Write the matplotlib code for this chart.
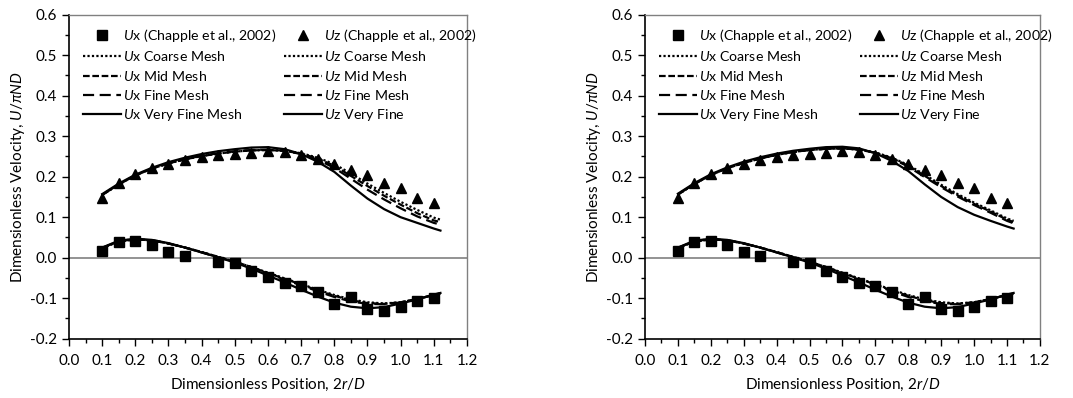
import matplotlib
matplotlib.use("Agg")
import matplotlib.pyplot as plt
from matplotlib.ticker import MultipleLocator, FormatStrFormatter

plt.rcParams['font.family'] = ['Lato', 'DejaVu Sans']
plt.rcParams['mathtext.fontset'] = 'custom'
plt.rcParams['mathtext.rm'] = 'Lato'
plt.rcParams['mathtext.it'] = 'Lato:italic'

# Chapple et al. (2002) measurements
exp_x_ux = [0.10, 0.15, 0.20, 0.25, 0.30, 0.35, 0.45, 0.50, 0.55, 0.60, 0.65,
            0.70, 0.75, 0.80, 0.85, 0.90, 0.95, 1.00, 1.05, 1.10]
exp_ux = [0.017, 0.038, 0.042, 0.032, 0.013, 0.003, -0.011, -0.014, -0.034, -0.048,
          -0.062, -0.071, -0.085, -0.114, -0.098, -0.126, -0.131, -0.121, -0.107, -0.099]
exp_x_uz = [0.10, 0.15, 0.20, 0.25, 0.30, 0.35, 0.40, 0.45, 0.50, 0.55, 0.60,
            0.65, 0.70, 0.75, 0.80, 0.85, 0.90, 0.95, 1.00, 1.05, 1.10]
exp_uz = [0.147, 0.184, 0.207, 0.222, 0.232, 0.241, 0.249, 0.253, 0.256, 0.259, 0.264,
          0.261, 0.253, 0.244, 0.231, 0.216, 0.204, 0.185, 0.171, 0.147, 0.135]

# CFD profiles
sim_x = [0.10, 0.15, 0.20, 0.25, 0.30, 0.35, 0.40, 0.45, 0.50, 0.55, 0.60,
         0.65, 0.70, 0.75, 0.80, 0.85, 0.90, 0.95, 1.00, 1.05, 1.10, 1.12]

# left case
ux_coarse_a = [0.024, 0.040, 0.045, 0.043, 0.035, 0.025, 0.014, 0.002, -0.010, -0.023, -0.037,
               -0.051, -0.065, -0.079, -0.092, -0.103, -0.110, -0.113, -0.110, -0.102, -0.092, -0.088]
ux_mid_a = [0.024, 0.040, 0.045, 0.043, 0.035, 0.025, 0.014, 0.002, -0.010, -0.023, -0.038,
            -0.052, -0.066, -0.081, -0.094, -0.105, -0.112, -0.114, -0.110, -0.102, -0.092, -0.088]
ux_fine_a = [0.024, 0.041, 0.046, 0.043, 0.035, 0.025, 0.013, 0.001, -0.011, -0.024, -0.039,
             -0.054, -0.068, -0.083, -0.097, -0.108, -0.114, -0.115, -0.111, -0.102, -0.092, -0.088]
ux_vfine_a = [0.025, 0.042, 0.047, 0.044, 0.036, 0.025, 0.013, 0.001, -0.012, -0.027, -0.044,
              -0.061, -0.079, -0.096, -0.111, -0.121, -0.125, -0.122, -0.113, -0.103, -0.091, -0.087]
uz_coarse_a = [0.155, 0.181, 0.203, 0.220, 0.233, 0.243, 0.251, 0.257, 0.262, 0.265, 0.266,
               0.264, 0.258, 0.247, 0.231, 0.208, 0.183, 0.160, 0.138, 0.118, 0.099, 0.094]
uz_mid_a = [0.155, 0.181, 0.203, 0.220, 0.233, 0.243, 0.251, 0.257, 0.262, 0.265, 0.266,
            0.264, 0.257, 0.245, 0.227, 0.202, 0.177, 0.153, 0.131, 0.110, 0.092, 0.088]
uz_fine_a = [0.155, 0.181, 0.203, 0.220, 0.233, 0.243, 0.252, 0.258, 0.263, 0.266, 0.267,
             0.264, 0.256, 0.242, 0.222, 0.195, 0.168, 0.144, 0.122, 0.102, 0.086, 0.082]
uz_vfine_a = [0.157, 0.183, 0.205, 0.222, 0.236, 0.247, 0.256, 0.263, 0.268, 0.272, 0.273,
              0.268, 0.256, 0.237, 0.212, 0.178, 0.146, 0.120, 0.100, 0.086, 0.072, 0.067]

# right case
ux_coarse_b = [0.024, 0.040, 0.045, 0.043, 0.035, 0.025, 0.014, 0.002, -0.010, -0.023, -0.037,
               -0.051, -0.065, -0.079, -0.092, -0.103, -0.110, -0.113, -0.110, -0.102, -0.092, -0.088]
ux_mid_b = [0.024, 0.040, 0.045, 0.043, 0.035, 0.025, 0.014, 0.002, -0.010, -0.023, -0.038,
            -0.052, -0.066, -0.081, -0.094, -0.105, -0.112, -0.114, -0.110, -0.102, -0.092, -0.088]
ux_fine_b = [0.024, 0.041, 0.046, 0.043, 0.035, 0.025, 0.013, 0.001, -0.011, -0.024, -0.039,
             -0.054, -0.068, -0.083, -0.097, -0.108, -0.114, -0.115, -0.111, -0.102, -0.092, -0.088]
ux_vfine_b = [0.025, 0.042, 0.047, 0.044, 0.036, 0.025, 0.013, 0.001, -0.012, -0.027, -0.044,
              -0.061, -0.079, -0.096, -0.111, -0.121, -0.125, -0.122, -0.113, -0.103, -0.091, -0.087]
uz_coarse_b = [0.156, 0.182, 0.204, 0.221, 0.234, 0.245, 0.254, 0.261, 0.266, 0.269, 0.270,
               0.267, 0.260, 0.247, 0.229, 0.205, 0.180, 0.157, 0.136, 0.117, 0.097, 0.091]
uz_mid_b = [0.156, 0.182, 0.204, 0.221, 0.234, 0.245, 0.254, 0.261, 0.266, 0.269, 0.270,
            0.267, 0.259, 0.246, 0.227, 0.202, 0.177, 0.154, 0.133, 0.114, 0.094, 0.088]
uz_fine_b = [0.156, 0.182, 0.204, 0.221, 0.234, 0.245, 0.254, 0.261, 0.266, 0.269, 0.270,
             0.267, 0.259, 0.245, 0.225, 0.199, 0.174, 0.151, 0.130, 0.111, 0.091, 0.085]
uz_vfine_b = [0.158, 0.184, 0.206, 0.223, 0.237, 0.248, 0.257, 0.264, 0.269, 0.273, 0.274,
              0.270, 0.258, 0.239, 0.214, 0.181, 0.150, 0.125, 0.106, 0.091, 0.077, 0.072]

styles = {
    "coarse": (0, (1, 1)),
    "mid": (0, (3, 1.2)),
    "fine": (0, (5, 2.5)),
    "vfine": "-",
}


def draw_panel(ax, ux, uz):
    ax.axhline(0, color="#808080", lw=1.2, zorder=1)
    h_ux, = ax.plot(exp_x_ux, exp_ux, ls="none", marker="s", ms=7, color="black",
                    label=r"$U$x (Chapple et al., 2002)")
    h_uz, = ax.plot(exp_x_uz, exp_uz, ls="none", marker="^", ms=7, color="black",
                    label=r"$U$z (Chapple et al., 2002)")
    names = ["Coarse Mesh", "Mid Mesh", "Fine Mesh", "Very Fine Mesh"]
    keys = ["coarse", "mid", "fine", "vfine"]
    hx, hz = [], []
    for k, name, yx, yz in zip(keys, names, ux, uz):
        a, = ax.plot(sim_x, yx, color="black", lw=1.6, ls=styles[k], label=r"$U$x " + name)
        zname = "Very Fine" if k == "vfine" else name
        b, = ax.plot(sim_x, yz, color="black", lw=1.6, ls=styles[k], label=r"$U$z " + zname)
        hx.append(a)
        hz.append(b)
    handles = [h_ux] + hx + [h_uz] + hz
    ax.legend(handles=handles, ncol=2, loc="upper left", bbox_to_anchor=(0.02, 0.98),
              frameon=False, fontsize=10.15, handlelength=2.7, handletextpad=0.14,
              columnspacing=0.57, labelspacing=0.38, borderaxespad=0.2, borderpad=0.2)

    ax.set_xlim(0, 1.2)
    ax.set_ylim(-0.2, 0.6)
    ax.xaxis.set_major_locator(MultipleLocator(0.1))
    ax.xaxis.set_minor_locator(MultipleLocator(0.05))
    ax.yaxis.set_major_locator(MultipleLocator(0.1))
    ax.yaxis.set_minor_locator(MultipleLocator(0.05))
    ax.xaxis.set_major_formatter(FormatStrFormatter("%.1f"))
    ax.yaxis.set_major_formatter(FormatStrFormatter("%.1f"))
    ax.tick_params(which="major", direction="out", length=5, width=1, labelsize=11)
    ax.tick_params(which="minor", direction="out", length=3, width=1)
    ax.tick_params(axis="x", pad=6)
    for s in ("top", "right"):
        ax.spines[s].set_color("#808080")
        ax.spines[s].set_linewidth(1.0)
    for s in ("left", "bottom"):
        ax.spines[s].set_linewidth(1.2)
    ax.set_xlabel(r"Dimensionless Position, 2$r$/$D$", fontsize=11, labelpad=6)
    ax.set_ylabel(r"Dimensionless Velocity, $U/\pi ND$", fontsize=11, labelpad=2)


fig = plt.figure(figsize=(10.73, 3.98), dpi=100)
ax1 = fig.add_axes([0.0643, 0.149, 0.3709, 0.814])
ax2 = fig.add_axes([0.6011, 0.149, 0.3681, 0.814])

draw_panel(ax1, [ux_coarse_a, ux_mid_a, ux_fine_a, ux_vfine_a],
           [uz_coarse_a, uz_mid_a, uz_fine_a, uz_vfine_a])
draw_panel(ax2, [ux_coarse_b, ux_mid_b, ux_fine_b, ux_vfine_b],
           [uz_coarse_b, uz_mid_b, uz_fine_b, uz_vfine_b])

fig.savefig("out.png", dpi=100)
